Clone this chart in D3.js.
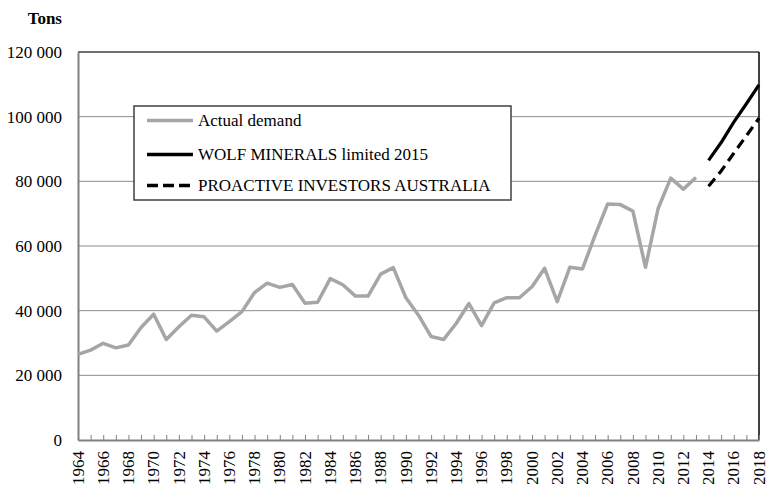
<!DOCTYPE html>
<html><head><meta charset="utf-8">
<script src="https://cdn.jsdelivr.net/npm/d3@7"></script>
<style>body{margin:0;background:#fff}svg{display:block}text{font-family:"Liberation Serif","Times New Roman",serif}</style>
</head><body><svg id="c" width="769" height="484"></svg>
<script>
const actualYears = d3.range(1964, 2014);
const actualDemand = [26500, 27800, 29900, 28500, 29400, 34800, 38900, 31100, 35000, 38600,
  38100, 33700, 36600, 39700, 45600, 48500, 47200, 48100, 42300, 42600,
  49900, 48000, 44500, 44500, 51300, 53300, 44000, 38600, 32000, 31100,
  36100, 42200, 35400, 42400, 44000, 44000, 47400, 53100, 42800, 53400,
  52900, 63300, 73000, 72800, 70800, 53400, 71600, 81000, 77600, 81200];
const forecastYears = [2014, 2015, 2016, 2017, 2018];
const wolfMinerals = [86500, 92000, 98300, 104000, 109800];
const proactive = [78500, 83200, 88700, 94100, 99500];
const yTicks = [0, 20000, 40000, 60000, 80000, 100000, 120000];
const xLabelYears = d3.range(1964, 2019, 2);
const seriesNames = ["Actual demand", "WOLF MINERALS limited 2015", "PROACTIVE INVESTORS AUSTRALIA"];

const svg = d3.select("#c");
const L = 78, R = 759, T = 52, B = 440;
const x = d3.scaleLinear().domain([1964, 2018]).range([L, R]);
const y = d3.scaleLinear().domain([0, 120000]).range([B, T]);
const fmt = v => v === 0 ? "0" : d3.format(",")(v).replace(/,/g, " ");

// gridlines
svg.append("g").selectAll("line").data(yTicks.filter(v => v > 0 && v < 120000)).join("line")
  .attr("x1", L).attr("x2", R).attr("y1", d => y(d)).attr("y2", d => y(d))
  .attr("stroke", "#8c8c8c").attr("stroke-width", 1);

// frame top/right
svg.append("line").attr("x1", L).attr("x2", R).attr("y1", T).attr("y2", T).attr("stroke", "#404040").attr("stroke-width", 1.5);
svg.append("line").attr("x1", R).attr("x2", R).attr("y1", T).attr("y2", B).attr("stroke", "#000").attr("stroke-width", 1.5);

// y axis
const yAxis = d3.axisLeft(y).tickValues(yTicks).tickFormat(fmt).tickSize(0).tickPadding(16);
const gy = svg.append("g").attr("transform", `translate(${L},0)`).call(yAxis);
gy.attr("font-family", null);
gy.select(".domain").attr("stroke", "#808080").attr("stroke-width", 2);
gy.selectAll("text").attr("font-size", 17).attr("fill", "#000");

// x axis with inward ticks
const xAxis = d3.axisBottom(x).tickValues(d3.range(1964, 2019)).tickSizeInner(-5).tickSizeOuter(0).tickFormat("");
const gx = svg.append("g").attr("transform", `translate(0,${B})`).call(xAxis);
gx.select(".domain").attr("stroke", "#808080").attr("stroke-width", 2);
gx.selectAll(".tick line").attr("stroke", "#808080").attr("stroke-width", 1);
svg.append("g").selectAll("text").data(xLabelYears).join("text")
  .attr("transform", d => `translate(${x(d)},${B + 11}) rotate(-90)`)
  .attr("text-anchor", "end").attr("dy", "0.33em")
  .attr("font-size", 17).attr("fill", "#000").text(d => d);

// Tons
svg.append("text").attr("x", 62).attr("y", 24).attr("text-anchor", "end")
  .attr("font-size", 17).attr("font-weight", "bold").text("Tons");

// lines
const line = d3.line().x(d => x(d[0])).y(d => y(d[1]));
svg.append("path").datum(actualYears.map((yr, i) => [yr, actualDemand[i]]))
  .attr("d", line).attr("fill", "none").attr("stroke", "#a6a6a6").attr("stroke-width", 3.5).attr("stroke-linejoin", "round");
svg.append("path").datum(forecastYears.map((yr, i) => [yr, wolfMinerals[i]]))
  .attr("d", line).attr("fill", "none").attr("stroke", "#000").attr("stroke-width", 3.2).attr("stroke-linejoin", "round");
svg.append("path").datum(forecastYears.map((yr, i) => [yr, proactive[i]]))
  .attr("d", line).attr("fill", "none").attr("stroke", "#000").attr("stroke-width", 3.2).attr("stroke-dasharray", "10,6");

// legend
const lg = svg.append("g");
lg.append("rect").attr("x", 134).attr("y", 106).attr("width", 377).attr("height", 94)
  .attr("fill", "#fff").attr("stroke", "#404040").attr("stroke-width", 1.5);
const styles = [{c: "#a6a6a6", d: null}, {c: "#000", d: null}, {c: "#000", d: "11,5"}];
const ly = [120.5, 154.5, 185.5];
seriesNames.forEach((n, i) => {
  lg.append("line").attr("x1", 147).attr("x2", 193).attr("y1", ly[i]).attr("y2", ly[i])
    .attr("stroke", styles[i].c).attr("stroke-width", 3.5).attr("stroke-dasharray", styles[i].d);
  lg.append("text").attr("x", 198).attr("y", ly[i]).attr("dy", "0.33em")
    .attr("font-size", 17).text(n);
});
</script></body></html>
